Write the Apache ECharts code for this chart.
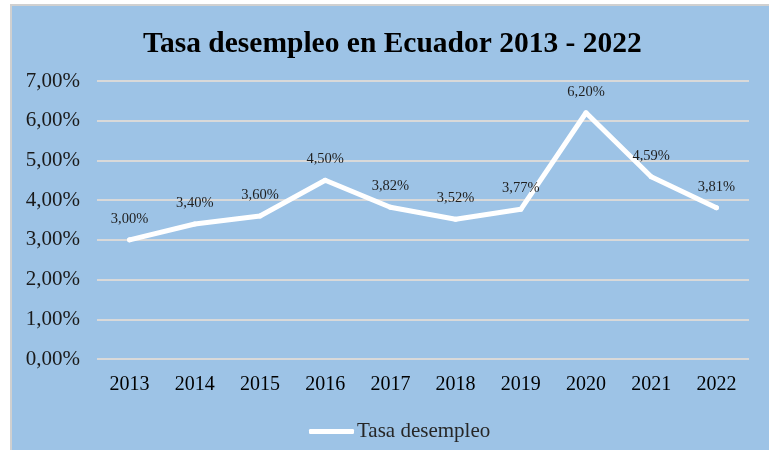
<!DOCTYPE html>
<html>
<head>
<meta charset="utf-8">
<script src="https://cdn.jsdelivr.net/npm/echarts@6/dist/echarts.min.js"></script>
<style>
html,body{margin:0;padding:0;background:#ffffff;}
#box{position:absolute;left:10px;top:4px;width:759px;height:446px;background:#9DC3E6;border-left:2px solid #d0d0d0;border-top:2px solid #d0d0d0;box-sizing:border-box;}
#chart{position:absolute;left:0;top:0;width:769px;height:450px;}
</style>
</head>
<body>
<div id="box"></div>
<div id="chart"></div>
<script>
const categories = ['2013','2014','2015','2016','2017','2018','2019','2020','2021','2022'];
const tasaDesempleo = [3.00, 3.40, 3.60, 4.50, 3.82, 3.52, 3.77, 6.20, 4.59, 3.81];
const seriesName = 'Tasa desempleo';
const titleText = 'Tasa desempleo en Ecuador 2013 - 2022';

const serif = "'Liberation Serif','Times New Roman',serif";
const fmt = v => v.toFixed(2).replace('.', ',') + '%';

const chart = echarts.init(document.getElementById('chart'), null, {renderer:'canvas'});
chart.setOption({
  backgroundColor: 'transparent',
  animation: false,
  title: {
    text: titleText,
    left: 138,
    top: 24,
    textStyle: {fontFamily: serif, fontSize: 29.5, fontWeight: 'bold', color: '#000000'}
  },
  legend: {
    data: [{name: seriesName, icon: 'roundRect', itemStyle: {color: '#ffffff', opacity: 1}}],
    left: 304,
    top: 416,
    itemWidth: 45,
    itemHeight: 5,
    itemGap: 5,
    textStyle: {fontFamily: serif, fontSize: 21, color: '#262626', padding: [0,0,0,-2]}
  },
  grid: {left: 97, right: 20, top: 81, bottom: 91, containLabel: false},
  xAxis: {
    type: 'category',
    data: categories,
    boundaryGap: true,
    axisLine: {show: false},
    axisTick: {show: false},
    axisLabel: {fontFamily: serif, fontSize: 20, color: '#000000', margin: 16}
  },
  yAxis: {
    type: 'value',
    min: 0, max: 7, interval: 1,
    axisLine: {show: false},
    axisTick: {show: false},
    splitLine: {lineStyle: {color: '#D9D9D9', width: 2}},
    axisLabel: {fontFamily: serif, fontSize: 21, color: '#1a1a1a', margin: 17, formatter: fmt}
  },
  series: [{
    name: seriesName,
    type: 'line',
    data: tasaDesempleo,
    showSymbol: true,
    symbol: 'circle',
    symbolSize: 5,
    lineStyle: {color: '#ffffff', width: 5, cap: 'round', join: 'round'},
    itemStyle: {color: '#ffffff', borderWidth: 0},
    label: {
      show: true,
      position: 'top',
      distance: 11,
      fontFamily: serif,
      fontSize: 14.5,
      color: '#1f1f1f',
      formatter: p => fmt(p.value)
    }
  }]
});
</script>
</body>
</html>
